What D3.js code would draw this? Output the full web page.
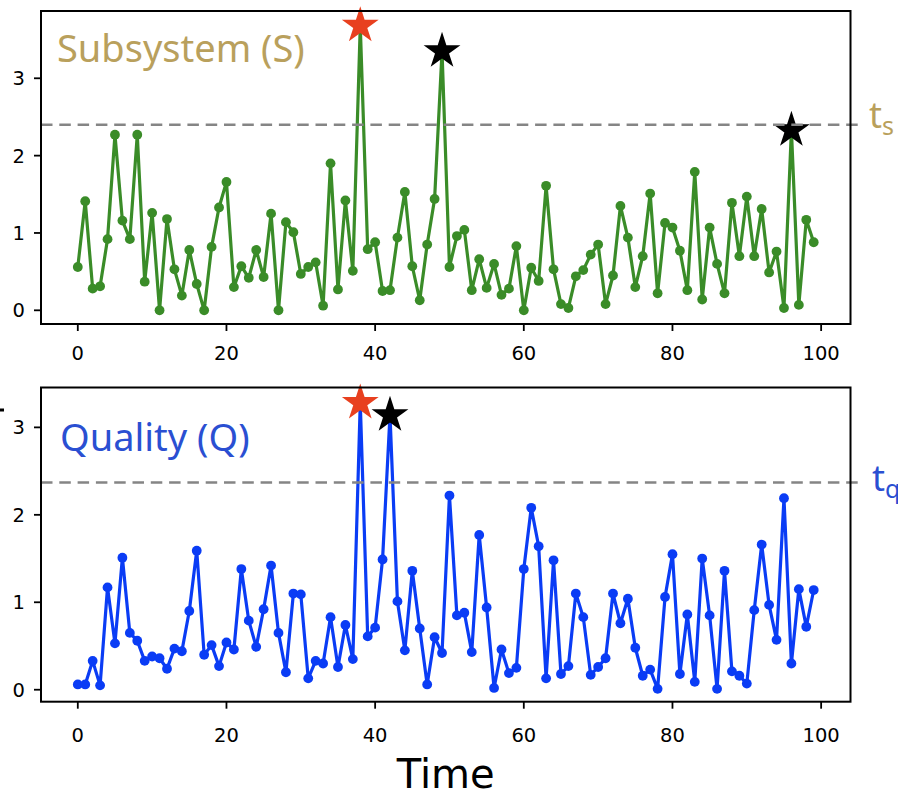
<!DOCTYPE html>
<html><head><meta charset="utf-8">
<script src="https://cdn.jsdelivr.net/npm/d3@7"></script>
<style>body{margin:0;background:#fff} svg{display:block}</style>
</head><body>
<svg id="c" width="898" height="797"></svg>
<script>
// ---- data ----
const subsystemValues = [0.56,1.41,0.28,0.31,0.92,2.27,1.16,0.92,2.27,0.37,
1.26,0.00,1.18,0.53,0.19,0.78,0.34,0.00,0.82,1.33,
1.66,0.30,0.57,0.42,0.78,0.43,1.25,0.00,1.14,1.01,
0.47,0.56,0.62,0.06,1.90,0.27,1.42,0.51,3.68,0.79,
0.88,0.25,0.26,0.94,1.53,0.57,0.13,0.85,1.44,3.35,
0.56,0.96,1.04,0.26,0.66,0.29,0.60,0.20,0.28,0.83,
0.00,0.55,0.38,1.61,0.53,0.08,0.03,0.44,0.52,0.72,
0.85,0.08,0.45,1.35,0.94,0.30,0.70,1.51,0.22,1.13,
1.07,0.77,0.26,1.79,0.14,1.07,0.60,0.22,1.39,0.70,
1.47,0.70,1.31,0.49,0.76,0.03,2.33,0.07,1.17,0.88];
const qualityValues = [0.06,0.06,0.33,0.05,1.17,0.53,1.51,0.65,0.56,0.33,
0.38,0.36,0.24,0.47,0.44,0.90,1.59,0.40,0.51,0.27,
0.54,0.46,1.38,0.79,0.49,0.92,1.42,0.65,0.20,1.10,
1.09,0.13,0.33,0.30,0.83,0.26,0.74,0.35,3.28,0.61,
0.71,1.49,3.14,1.01,0.45,1.36,0.70,0.06,0.60,0.42,
2.22,0.85,0.88,0.43,1.77,0.94,0.02,0.46,0.19,0.25,
1.38,2.08,1.64,0.13,1.48,0.18,0.27,1.10,0.83,0.17,
0.26,0.36,1.10,0.76,1.04,0.48,0.16,0.23,0.01,1.06,
1.55,0.18,0.86,0.09,1.50,0.85,0.01,1.36,0.21,0.16,
0.07,0.91,1.66,0.97,0.57,2.19,0.30,1.15,0.72,1.14];
const subsystemThreshold = 2.40;
const qualityThreshold = 2.37;
const subsystemRedStars = [38];
const subsystemBlackStars = [49, 96];
const qualityRedStars = [38];
const qualityBlackStars = [42];
const xTickValues = [0, 20, 40, 60, 80, 100];
const yTickValues = [0, 1, 2, 3];
const xLabel = "Time";

// ---- layout ----
const svg = d3.select("#c");
const left = 41, right = 850.5;
const x = d3.scaleLinear().domain([-4.95, 103.95]).range([left, right]);

const panels = [
  {values: subsystemValues, threshold: subsystemThreshold, red: subsystemRedStars, black: subsystemBlackStars,
   top: 11, bottom: 324, domain: [-0.177, 3.87], color: "#3a8c28",
   title: "Subsystem (S)", titleColor: "#b9a05c", titleX: 57, titleY: 62,
   tSub: "s", tX: 869, tY: 128, tickBase: 360},
  {values: qualityValues, threshold: qualityThreshold, red: qualityRedStars, black: qualityBlackStars,
   top: 387.5, bottom: 701.7, domain: [-0.137, 3.456], color: "#0a3cf5",
   title: "Quality (Q)", titleColor: "#2a4fd2", titleX: 60, titleY: 451,
   tSub: "q", tX: 872, tY: 491, tickBase: 742}
];

panels.forEach(p => {
  const y = d3.scaleLinear().domain(p.domain).range([p.bottom, p.top]);
  const g = svg.append("g");
  const data = p.values.map((v, i) => ({t: i, v}));

  // line
  g.append("path").datum(data)
    .attr("fill", "none").attr("stroke", p.color).attr("stroke-width", 3.2)
    .attr("stroke-linejoin", "round")
    .attr("d", d3.line().x(d => x(d.t)).y(d => y(d.v)));
  // markers
  g.selectAll("circle.m").data(data).join("circle")
    .attr("cx", d => x(d.t)).attr("cy", d => y(d.v)).attr("r", 4.9)
    .attr("fill", p.color);

  // stars
  const star = d3.symbol().type(d3.symbolStar).size(420);
  g.selectAll("path.rs").data(p.red).join("path")
    .attr("transform", t => `translate(${x(t)},${y(p.values[t])})`)
    .attr("d", star).attr("fill", "#e8401f");
  g.selectAll("path.bs").data(p.black).join("path")
    .attr("transform", t => `translate(${x(t)},${y(p.values[t])})`)
    .attr("d", star).attr("fill", "#000");

  // threshold dashed line (extends beyond frame)
  g.append("line")
    .attr("x1", left).attr("x2", 859)
    .attr("y1", y(p.threshold)).attr("y2", y(p.threshold))
    .attr("stroke", "#858585").attr("stroke-width", 2.5)
    .attr("stroke-dasharray", "11.5,6.8");

  // frame
  g.append("rect").attr("x", left).attr("y", p.top)
    .attr("width", right - left).attr("height", p.bottom - p.top)
    .attr("fill", "none").attr("stroke", "#000").attr("stroke-width", 2);

  // ticks
  const xa = g.append("g");
  xTickValues.forEach(t => {
    xa.append("line").attr("x1", x(t)).attr("x2", x(t))
      .attr("y1", p.bottom).attr("y2", p.bottom + 7)
      .attr("stroke", "#000").attr("stroke-width", 1.8);
    xa.append("text").attr("x", x(t)).attr("y", p.tickBase)
      .attr("text-anchor", "middle")
      .attr("font-family", "DejaVu Sans").attr("font-size", 19.5)
      .text(t);
  });
  yTickValues.forEach(t => {
    xa.append("line").attr("x1", left - 7).attr("x2", left)
      .attr("y1", y(t)).attr("y2", y(t))
      .attr("stroke", "#000").attr("stroke-width", 1.8);
    xa.append("text").attr("x", 25).attr("y", y(t)).attr("dy", "0.36em")
      .attr("text-anchor", "end")
      .attr("font-family", "DejaVu Sans").attr("font-size", 19.5)
      .text(t);
  });

  // title inside panel
  g.append("text").attr("x", p.titleX).attr("y", p.titleY)
    .attr("font-family", "Noto Sans").attr("font-size", 38)
    .attr("fill", p.titleColor).text(p.title);

  // threshold label
  const tl = g.append("text").attr("x", p.tX).attr("y", p.tY)
    .attr("font-family", "Noto Sans").attr("font-size", 36)
    .attr("fill", p.titleColor);
  tl.append("tspan").text("t");
  tl.append("tspan").attr("font-size", 25).attr("dy", 7).text(p.tSub);
});

// small clipped mark at far left
svg.append("rect").attr("x", 0).attr("y", 408.5).attr("width", 4).attr("height", 3).attr("fill", "#000");

// x label
svg.append("text").attr("x", (left + right) / 2).attr("y", 788)
  .attr("text-anchor", "middle")
  .attr("font-family", "DejaVu Sans").attr("font-size", 40)
  .text(xLabel);
</script>
</body></html>
